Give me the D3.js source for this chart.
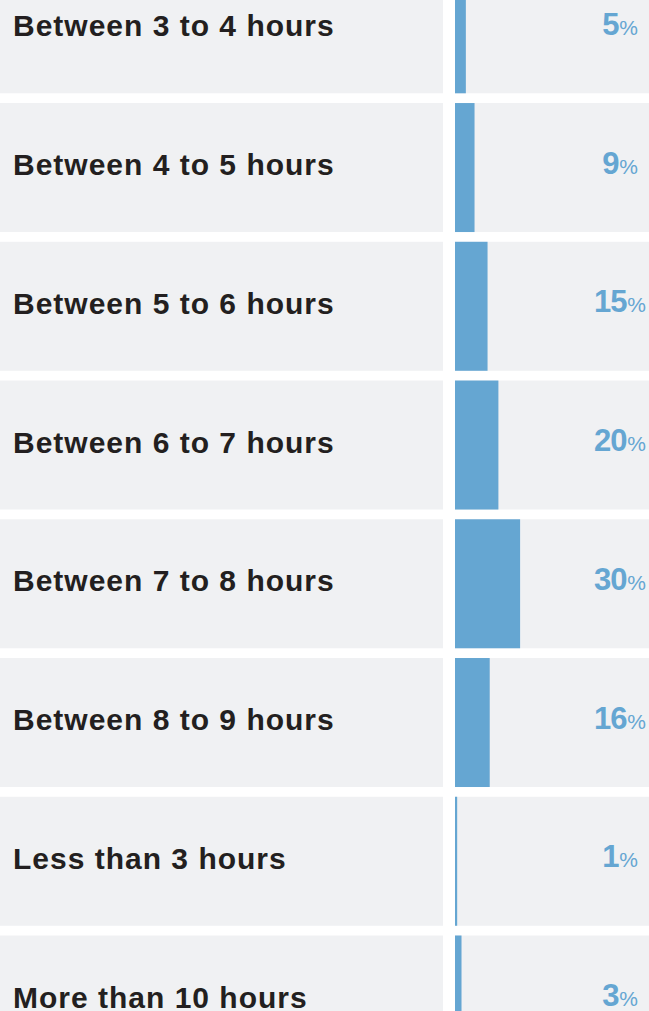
<!DOCTYPE html>
<html>
<head>
<meta charset="utf-8">
<script src="https://cdn.jsdelivr.net/npm/d3@7"></script>
<style>
  html, body { margin: 0; padding: 0; background: #ffffff; }
  svg { display: block; }
</style>
</head>
<body>
<div id="chart"></div>
<script>
const categories = [
  "Between 3 to 4 hours",
  "Between 4 to 5 hours",
  "Between 5 to 6 hours",
  "Between 6 to 7 hours",
  "Between 7 to 8 hours",
  "Between 8 to 9 hours",
  "Less than 3 hours",
  "More than 10 hours"
];
const values = [5, 9, 15, 20, 30, 16, 1, 3];

const width = 649, height = 1011;
const panel_bg = "#f0f1f3";
const bar_color = "#65a6d2";

const svg = d3.select("#chart").append("svg")
  .attr("width", width)
  .attr("height", height);

// rows run past the top and bottom of the view, like the cropped original
const y = d3.scaleBand()
  .domain(categories)
  .range([-35.7, 1064.5])
  .paddingInner(0.0703)
  .paddingOuter(0);

const x = d3.scaleLinear().domain([0, 100]).range([455, 672]);

const rows = svg.selectAll("g.row")
  .data(categories.map((c, i) => ({cat: c, val: values[i]})))
  .join("g")
  .attr("class", "row");

// label panel
rows.append("rect")
  .attr("x", 0)
  .attr("y", d => y(d.cat))
  .attr("width", 443)
  .attr("height", y.bandwidth())
  .attr("fill", panel_bg);

// bar panel
rows.append("rect")
  .attr("x", x(0))
  .attr("y", d => y(d.cat))
  .attr("width", width - x(0))
  .attr("height", y.bandwidth())
  .attr("fill", panel_bg);

rows.append("rect")
  .attr("x", x(0))
  .attr("y", d => y(d.cat))
  .attr("width", d => x(d.val) - x(0))
  .attr("height", y.bandwidth())
  .attr("fill", bar_color);

rows.append("text")
  .attr("x", 13)
  .attr("y", d => y(d.cat) + y.bandwidth() / 2 + 7.5)
  .attr("font-family", "'Liberation Sans', Arial, Helvetica, sans-serif")
  .attr("font-weight", "bold")
  .attr("font-size", 30)
  .attr("letter-spacing", 1)
  .attr("fill", "#231f20")
  .text(d => d.cat);

const vt = rows.append("text")
  .attr("x", 620)
  .attr("y", d => y(d.cat) + y.bandwidth() / 2 + 6)
  .attr("text-anchor", "middle")
  .attr("font-family", "'Liberation Sans', Arial, Helvetica, sans-serif")
  .attr("font-weight", "bold")
  .attr("fill", bar_color);

vt.append("tspan")
  .attr("font-size", 31)
  .attr("letter-spacing", -1.2)
  .text(d => d.val);

vt.append("tspan")
  .attr("font-size", 21)
  .attr("font-weight", "normal")
  .attr("dx", 1)
  .text("%");
</script>
</body>
</html>
